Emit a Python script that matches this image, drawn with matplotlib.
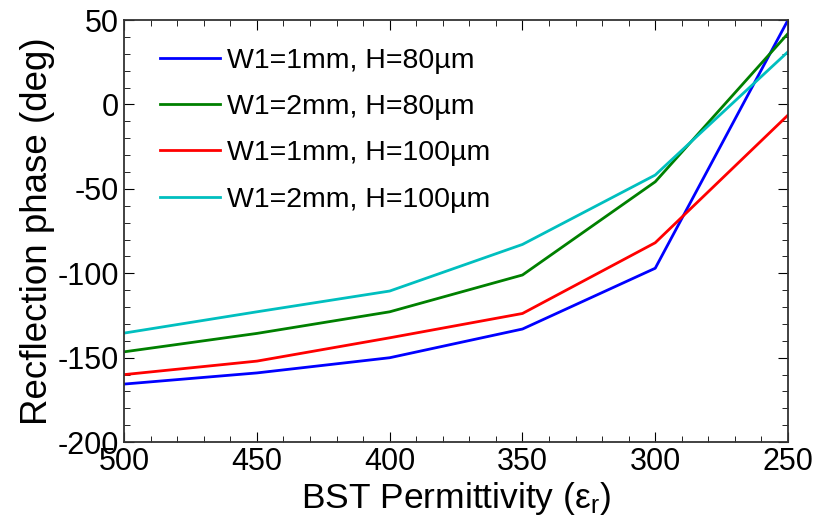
import numpy as np
import matplotlib
matplotlib.use('Agg')
import matplotlib.pyplot as plt
from matplotlib.ticker import MultipleLocator

plt.rcParams['font.family'] = ['Liberation Sans', 'DejaVu Sans']
plt.rcParams['mathtext.fontset'] = 'custom'
plt.rcParams['mathtext.rm'] = 'Liberation Sans'
plt.rcParams['mathtext.it'] = 'Liberation Sans'
plt.rcParams['axes.unicode_minus'] = False

permittivity = [500, 450, 400, 350, 300, 250]
w1_1mm_h80 = [-165.6, -159, -150, -133, -97, 50]
w1_2mm_h80 = [-146.5, -135.6, -122.8, -101, -45.8, 42]
w1_1mm_h100 = [-160, -152, -138.2, -123.8, -81.9, -6.3]
w1_2mm_h100 = [-135.4, -122.8, -110.5, -82.9, -41.8, 31.2]

labels = ['W1=1mm, H=80µm', 'W1=2mm, H=80µm', 'W1=1mm, H=100µm', 'W1=2mm, H=100µm']
colors = ['#0000ff', '#008000', '#ff0000', '#00bfbf']
series = [w1_1mm_h80, w1_2mm_h80, w1_1mm_h100, w1_2mm_h100]

fig = plt.figure(figsize=(8.17, 5.27), dpi=100)
ax = fig.add_axes([0.152, 0.161, 0.8125, 0.801])

for s, c, lab in zip(series, colors, labels):
    ax.plot(permittivity, s, color=c, lw=2, label=lab)

ax.set_xlim(500, 250)
ax.set_ylim(-200, 50)
ax.xaxis.set_major_locator(MultipleLocator(50))
ax.xaxis.set_minor_locator(MultipleLocator(10))
ax.yaxis.set_major_locator(MultipleLocator(50))
ax.yaxis.set_minor_locator(MultipleLocator(10))
ax.tick_params(which='both', direction='in', top=True, right=True, labelsize=22, pad=3.5)
ax.tick_params(which='major', length=7)
ax.tick_params(which='minor', length=4)
for sp in ax.spines.values():
    sp.set_linewidth(1.3)
    sp.set_color('#333333')

ax.set_xlabel('BST Permittivity (ε$_\\mathregular{r}$)', fontsize=25.5, labelpad=2)
ax.set_ylabel('Recflection phase (deg)', fontsize=26.5, labelpad=2)

ax.legend(loc='upper left', frameon=False, fontsize=20.5, handlelength=2.1,
          handletextpad=0.25, labelspacing=0.71, borderpad=0, borderaxespad=0,
          bbox_to_anchor=(0.054, 0.934))

fig.savefig('out.png', dpi=100)
